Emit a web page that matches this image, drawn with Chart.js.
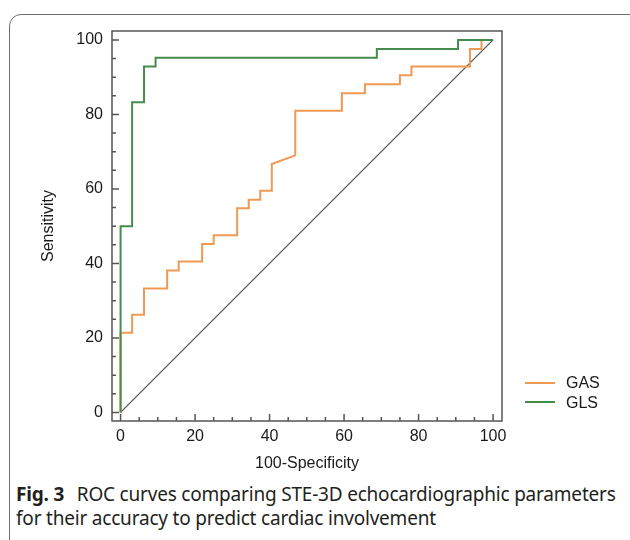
<!DOCTYPE html>
<html lang="en">
<head>
<meta charset="UTF-8">
<title>Fig. 3 ROC curves</title>
<style>
  *{box-sizing:border-box;margin:0;padding:0}
  html,body{width:630px;height:540px;overflow:hidden;background:#fff}
  body{position:relative;font-family:"Liberation Sans",Arial,sans-serif;color:#1a1a1a}
  .frame{position:absolute;left:9px;top:14px;width:640px;height:545px;border:1.5px solid #6f6f6f;border-radius:12px}
  #roc{position:absolute;left:0;top:0}
  .legend{position:absolute;left:525px;top:373px;font-size:16px;line-height:19.5px}
  .legend div{display:flex;align-items:center}
  .legend i{display:inline-block;width:30px;height:2px;margin-right:11px}
  .caption{position:absolute;left:16px;top:483px;font-family:"Noto Sans",sans-serif;font-size:19px;letter-spacing:-0.2px;line-height:23.5px;color:#231f20;white-space:nowrap}
  .caption b{font-weight:700;margin-right:8px}
</style>
</head>
<body>
<div class="frame"></div>
<canvas id="roc" width="630" height="480"></canvas>
<div class="legend" id="legend"></div>
<div class="caption"><b>Fig. 3</b> ROC curves comparing STE-3D echocardiographic parameters<br>for their accuracy to predict cardiac involvement</div>

<script src="https://cdn.jsdelivr.net/npm/chart.js@4.4.0"></script>
<script>
/* axis ticks */
const axisTicks=[0,20,40,60,80,100];
const tickMarks=[0,5,10,15,20,25,30,35,40,45,50,55,60,65,70,75,80,85,90,95,100];

/* GAS curve vertices (100-Specificity, Sensitivity) */
const gasX=[0,0,3.1,3.1,6.3,6.3,12.5,12.5,15.6,15.6,21.9,21.9,25,25,31.3,31.3,34.4,34.4,37.5,37.5,40.6,40.6,46.9,46.9,59.4,59.4,65.6,65.6,75,75,78.1,78.1,93.8,93.8,96.9,96.9,100];
const gasY=[0,21.4,21.4,26.2,26.2,33.3,33.3,38.1,38.1,40.5,40.5,45.2,45.2,47.6,47.6,54.8,54.8,57.1,57.1,59.5,59.5,66.7,69,81,81,85.7,85.7,88.1,88.1,90.5,90.5,92.9,92.9,97.6,97.6,100,100];

/* GLS curve vertices */
const glsX=[0,0,3.1,3.1,6.3,6.3,9.4,9.4,68.8,68.8,90.6,90.6,100];
const glsY=[0,50,50,83.3,83.3,92.9,92.9,95.2,95.2,97.6,97.6,100,100];

/* reference diagonal */
const refX=[0,100];
const refY=[0,100];

const series=[
  {label:'GAS',xs:gasX,ys:gasY,color:'#ee9a55',width:2,order:2},
  {label:'GLS',xs:glsX,ys:glsY,color:'#458c4c',width:2,order:1}
];

function pts(xs,ys){return xs.map((x,i)=>({x:x,y:ys[i]}));}

const frameTicks={
  id:'frameTicks',
  afterDatasetsDraw(chart){
    const ctx=chart.ctx,a=chart.chartArea,xs=chart.scales.x,ys=chart.scales.y;
    ctx.save();
    ctx.strokeStyle='#555';ctx.lineWidth=1.5;
    ctx.strokeRect(a.left,a.top,a.right-a.left,a.bottom-a.top);
    ctx.beginPath();
    tickMarks.forEach(v=>{
      const len=axisTicks.includes(v)?7:4;
      const px=xs.getPixelForValue(v),py=ys.getPixelForValue(v);
      ctx.moveTo(px,a.bottom);ctx.lineTo(px,a.bottom-len);
      ctx.moveTo(a.left,py);ctx.lineTo(a.left+len,py);
    });
    ctx.stroke();
    ctx.restore();
  }
};

const tickFont={family:'"Liberation Sans",Arial,sans-serif',size:16};

new Chart(document.getElementById('roc'),{
  type:'scatter',
  data:{datasets:[
    ...series.map(s=>({label:s.label,data:pts(s.xs,s.ys),showLine:true,borderColor:s.color,
      borderWidth:s.width,pointRadius:0,tension:0,order:s.order})),
    {label:'ref',data:pts(refX,refY),showLine:true,borderColor:'#555',borderWidth:1.2,pointRadius:0,order:3}
  ]},
  options:{
    responsive:false,animation:false,devicePixelRatio:1,
    layout:{padding:{left:39,top:31,right:128,bottom:7}},
    plugins:{legend:{display:false},tooltip:{enabled:false}},
    scales:{
      x:{type:'linear',min:-2.3,max:102.4,
        afterBuildTicks:s=>{s.ticks=axisTicks.map(v=>({value:v}));},
        afterFit:s=>{s.height=52;},
        grid:{display:false,drawTicks:false},border:{display:false},
        ticks:{color:'#1a1a1a',font:tickFont,padding:6,maxRotation:0},
        title:{display:true,text:'100-Specificity',color:'#1a1a1a',font:tickFont,padding:0}},
      y:{type:'linear',min:-2.3,max:102.4,
        afterBuildTicks:s=>{s.ticks=axisTicks.map(v=>({value:v}));},
        afterFit:s=>{s.width=73;},
        grid:{display:false,drawTicks:false},border:{display:false},
        ticks:{color:'#1a1a1a',font:tickFont,padding:9},
        title:{display:true,text:'Sensitivity',color:'#1a1a1a',font:tickFont,padding:0}}
    }
  },
  plugins:[frameTicks]
});

/* legend */
document.getElementById('legend').innerHTML=series.map(s=>
  '<div><i style="background:'+s.color+'"></i>'+s.label+'</div>').join('');
</script>
</body>
</html>
